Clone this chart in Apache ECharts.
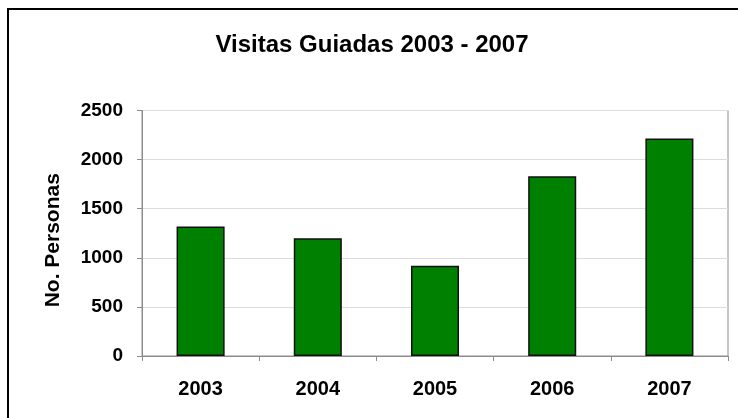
<!DOCTYPE html>
<html>
<head>
<meta charset="utf-8">
<script src="https://cdn.jsdelivr.net/npm/echarts@6/dist/echarts.min.js"></script>
<style>
  html, body { margin: 0; padding: 0; background: #fff; }
  #chart { width: 738px; height: 418px; }
</style>
</head>
<body>
<div id="chart"></div>
<script>
var years = ['2003', '2004', '2005', '2006', '2007']
var personas = [1320, 1200, 920, 1830, 2215]
var yTicks = [0, 500, 1000, 1500, 2000, 2500]

var chart = echarts.init(document.getElementById('chart'))

chart.setOption({
  backgroundColor: '#fff',
  animation: false,
  title: {
    text: 'Visitas Guiadas 2003 - 2007',
    left: 367,
    textAlign: 'center',
    top: 28,
    textStyle: {
      fontFamily: 'Liberation Sans, Arial',
      fontWeight: 'bold',
      fontSize: 24,
      color: '#000'
    }
  },
  graphic: [{
    type: 'rect',
    shape: { x: 8, y: 9, width: 740, height: 420 },
    style: { fill: 'none', stroke: '#000', lineWidth: 2 },
    silent: true
  }],
  grid: {
    left: 142,
    right: 10,
    top: 110.5,
    bottom: 62,
    show: true,
    borderColor: '#8c8c8c',
    borderWidth: 1
  },
  xAxis: {
    type: 'category',
    data: years,
    axisLine: { lineStyle: { color: '#8c8c8c' } },
    axisTick: { show: true, length: 5, lineStyle: { color: '#8c8c8c' } },
    axisLabel: {
      margin: 23,
      fontFamily: 'Liberation Sans, Arial',
      fontWeight: 'bold',
      fontSize: 20,
      color: '#000'
    }
  },
  yAxis: {
    type: 'value',
    min: yTicks[0],
    max: yTicks[yTicks.length - 1],
    interval: 500,
    name: 'No. Personas',
    nameLocation: 'middle',
    nameGap: 78,
    nameMoveOverlap: false,
    nameTextStyle: {
      fontFamily: 'Liberation Sans, Arial',
      fontWeight: 'bold',
      fontSize: 21,
      color: '#000',
      padding: [0, 14, 0, 0]
    },
    axisLine: { show: true, lineStyle: { color: '#8c8c8c' } },
    axisTick: { show: true, length: 5, lineStyle: { color: '#8c8c8c' } },
    axisLabel: {
      margin: 19,
      formatter: function (v) { return String(v) },
      fontFamily: 'Liberation Sans, Arial',
      fontWeight: 'bold',
      fontSize: 19,
      color: '#000'
    },
    splitLine: { lineStyle: { color: '#dcdcdc' } }
  },
  series: [{
    type: 'bar',
    data: personas,
    barWidth: '41%',
    itemStyle: {
      color: '#008000',
      borderColor: '#111',
      borderWidth: 1.5
    }
  }]
})
</script>
</body>
</html>
